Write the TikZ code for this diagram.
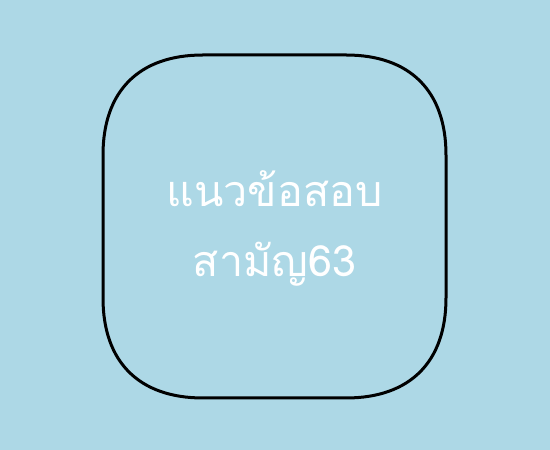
\documentclass[tikz,border=0pt]{standalone}
\usepackage{fontspec}
\newfontfamily\thaifont[Script=Thai]{Loma}
\definecolor{skyback}{HTML}{ADD8E6}

\begin{document}
\begin{tikzpicture}[x=1pt,y=1pt]

\fill[skyback] (0,0) rectangle (550,450); %% background
\useasboundingbox (0,0) rectangle (550,450);

\draw[line width=3pt]
(103,295) .. controls (103,359) and (139,395) .. (203,395) --
(346,395) .. controls (410,395) and (446,359) .. (446,295) --
(446,152) .. controls (446,88) and (410,52) .. (346,52) --
(203,52) .. controls (139,52) and (103,88) .. (103,152) -- cycle;

\node[text=white, align=center, font=\thaifont\fontsize{43}{70}\selectfont]
(title) at (274.5,222) {แนวข้อสอบ\\สามัญ63};

\end{tikzpicture}
\end{document}
